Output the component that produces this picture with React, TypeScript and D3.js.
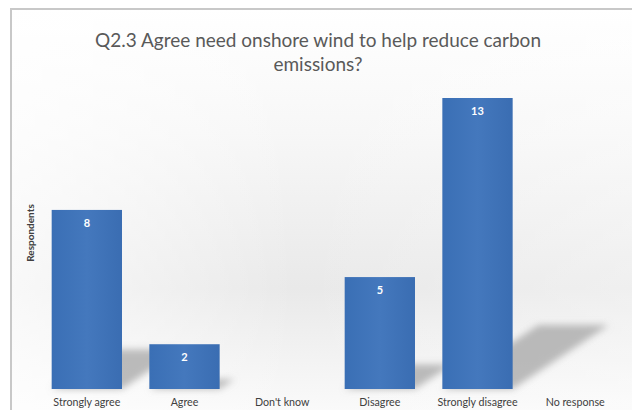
import * as d3 from "d3";
import React, { useEffect, useRef } from "react";

const width = 632;
const height = 410;

const categories = [
  "Strongly agree",
  "Agree",
  "Don't know",
  "Disagree",
  "Strongly disagree",
  "No response",
];
const values = [8, 2, 0, 5, 13, 0];
const titleLines = [
  "Q2.3 Agree need onshore wind to help reduce carbon",
  "emissions?",
];
const yTitle = "Respondents";

export default function App() {
  const ref = useRef<HTMLDivElement | null>(null);

  useEffect(() => {
    const holder = ref.current;
    if (!holder || holder.hasChildNodes()) return;

    const x = d3
      .scaleBand<string>()
      .domain(categories)
      .range([38, 624])
      .paddingInner(0.28)
      .paddingOuter(0.14);
    const bottom = 389;
    const y = d3.scaleLinear().domain([0, 13]).range([bottom, 98]);

    const svg = d3
      .select(holder)
      .append("svg")
      .attr("width", width)
      .attr("height", height)
      .style("display", "block")
      .style("font-family", "Lato, 'Open Sans', sans-serif");

    const defs = svg.append("defs");
    const bg = defs
      .append("linearGradient")
      .attr("id", "bg")
      .attr("x1", 0)
      .attr("y1", 0)
      .attr("x2", 0)
      .attr("y2", 1);
    bg.append("stop").attr("offset", "0%").attr("stop-color", "#ffffff");
    bg.append("stop").attr("offset", "30%").attr("stop-color", "#f7f7f7");
    bg.append("stop").attr("offset", "68%").attr("stop-color", "#e9e9e9");
    bg.append("stop").attr("offset", "100%").attr("stop-color", "#fbfbfb");

    const side = defs
      .append("linearGradient")
      .attr("id", "side")
      .attr("x1", 0)
      .attr("y1", 0)
      .attr("x2", 1)
      .attr("y2", 0);
    side.append("stop").attr("offset", "0%").attr("stop-color", "#fff").attr("stop-opacity", 0.7);
    side.append("stop").attr("offset", "45%").attr("stop-color", "#fff").attr("stop-opacity", 0);
    side.append("stop").attr("offset", "100%").attr("stop-color", "#fff").attr("stop-opacity", 0.3);

    defs
      .append("filter")
      .attr("id", "blur")
      .attr("x", "-20%")
      .attr("y", "-20%")
      .attr("width", "140%")
      .attr("height", "140%")
      .append("feGaussianBlur")
      .attr("stdDeviation", 3.5);

    const bar = defs
      .append("linearGradient")
      .attr("id", "bar")
      .attr("x1", 0)
      .attr("y1", 0)
      .attr("x2", 1)
      .attr("y2", 0);
    bar.append("stop").attr("offset", "0%").attr("stop-color", "#3a6fb5");
    bar.append("stop").attr("offset", "50%").attr("stop-color", "#4478bd");
    bar.append("stop").attr("offset", "100%").attr("stop-color", "#3a6db2");

    svg.append("rect").attr("width", width).attr("height", height).attr("fill", "#fff");
    svg
      .append("rect")
      .attr("x", 11)
      .attr("y", 9)
      .attr("width", width)
      .attr("height", height)
      .attr("fill", "url(#bg)")
      .attr("stroke", "#c8c8c8")
      .attr("stroke-width", 2);
    svg
      .append("rect")
      .attr("x", 12)
      .attr("y", 10)
      .attr("width", width)
      .attr("height", height)
      .attr("fill", "url(#side)");

    const data = categories.map((c, i) => ({ c, v: values[i] }));
    const shown = data.filter((d) => d.v > 0);

    // shadows
    svg
      .append("g")
      .attr("filter", "url(#blur)")
      .selectAll("polygon")
      .data(shown)
      .join("polygon")
      .attr("fill", "#a0a0a0")
      .attr("opacity", 0.7)
      .attr("points", (d) => {
        const x0 = x(d.c)!;
        const x1 = x0 + x.bandwidth();
        const h = bottom - y(d.v);
        const dx = h * 0.33;
        const dy = -h * 0.22;
        return [
          [x0, bottom],
          [x1, bottom],
          [x1 + dx, bottom + dy],
          [x0 + dx, bottom + dy],
        ]
          .map((p) => p.join(","))
          .join(" ");
      });

    svg
      .append("g")
      .selectAll("rect")
      .data(shown)
      .join("rect")
      .attr("x", (d) => x(d.c)!)
      .attr("y", (d) => y(d.v))
      .attr("width", x.bandwidth())
      .attr("height", (d) => bottom - y(d.v))
      .attr("fill", "url(#bar)");

    svg
      .append("g")
      .selectAll("text")
      .data(shown)
      .join("text")
      .attr("x", (d) => x(d.c)! + x.bandwidth() / 2)
      .attr("y", (d) => y(d.v) + 17)
      .attr("text-anchor", "middle")
      .attr("fill", "#ffffff")
      .attr("font-size", 11)
      .attr("font-weight", "bold")
      .text((d) => d.v);

    svg
      .append("g")
      .selectAll("text")
      .data(categories)
      .join("text")
      .attr("x", (d) => x(d)! + x.bandwidth() / 2)
      .attr("y", 406)
      .attr("text-anchor", "middle")
      .attr("fill", "#404040")
      .attr("font-size", 10.7)
      .text((d) => d);

    svg
      .append("text")
      .attr("transform", "translate(34,233) rotate(-90)")
      .attr("text-anchor", "middle")
      .attr("fill", "#404040")
      .attr("font-size", 10)
      .attr("font-weight", "bold")
      .text(yTitle);

    svg
      .append("g")
      .selectAll("text")
      .data(titleLines)
      .join("text")
      .attr("x", 318)
      .attr("y", (d, i) => 47 + i * 23.5)
      .attr("text-anchor", "middle")
      .attr("fill", "#595959")
      .attr("font-size", 19)
      .text((d) => d);
  }, []);

  return <div ref={ref} style={{ position: "fixed", left: 0, top: 0 }} />;
}
